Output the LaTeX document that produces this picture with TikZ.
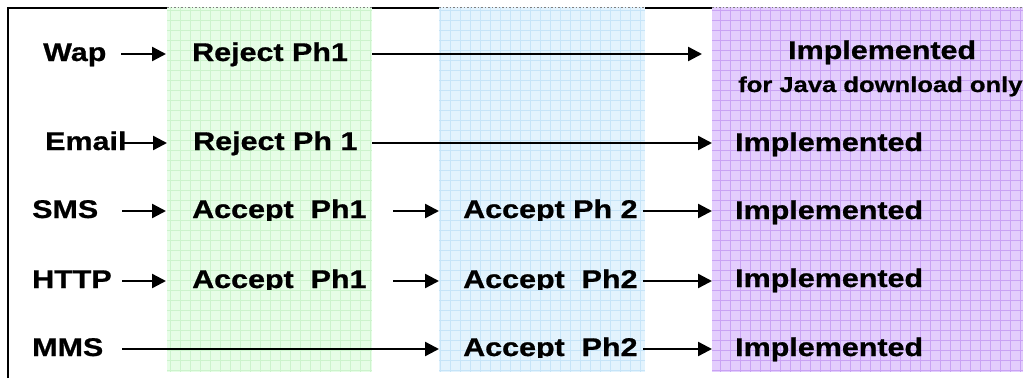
\documentclass[tikz,border=0pt]{standalone}
\usepackage{fontspec}
\setmainfont{Liberation Sans}[FakeStretch=1.19, BoldFeatures={FakeBold=0.8}]
\usetikzlibrary{arrows.meta}
\definecolor{grnfill}{HTML}{E6FDE6}
\definecolor{grngrid}{HTML}{CCF3CC}
\definecolor{blufill}{HTML}{E3F3FD}
\definecolor{blugrid}{HTML}{C6E4F8}
\definecolor{purfill}{HTML}{E3CDFD}
\definecolor{purgrid}{HTML}{C9A2F4}
\begin{document}
\begin{tikzpicture}[x=1pt,y=-1pt,
  lbl/.style={anchor=base west, inner sep=0pt, font=\bfseries\fontsize{25.6}{30}\selectfont, text height=14pt, text depth=0pt},
  smalllbl/.style={anchor=base west, inner sep=0pt, font=\bfseries\fontsize{21.5}{25}\selectfont},
  arr/.style={line width=2.4pt, -{Triangle[length=14pt,width=14pt]}},
  colgrid/.style={line width=0.7pt, step=10pt}
  ]
\useasboundingbox (0,0) rectangle (1023,378);
% frame
\draw[line width=2pt] (8,378) -- (8,8) -- (1023,8);
% columns
\fill[grnfill] (167,7) rectangle (372,372);
\draw[grngrid, colgrid] (167,7) grid (372,372);
\fill[blufill] (439,7) rectangle (645,372);
\draw[blugrid, colgrid] (439,7) grid (645,372);
\fill[purfill] (712,7) rectangle (1023,372);
\draw[purgrid, colgrid] (712,7) grid (1023,372);
\draw[gray, line width=1.5pt, dotted] (167,7.5) -- (372,7.5) (439,7.5) -- (645,7.5) (712,7.5) -- (1023,7.5);
% row labels
\node[lbl] (wap) at (43,61) {Wap};
\node[lbl] (email) at (45,150) {Email};
\node[lbl] (sms) at (32,218) {SMS};
\node[lbl] (http) at (32,288) {HTTP};
\node[lbl] (mms) at (32,356) {MMS};
% phase 1
\node[lbl] (rej1) at (192,61) {Reject Ph1};
\node[lbl] (rej2) at (193,150) {Reject Ph 1};
\begin{scope}
\clip (150,190) rectangle (680,220.5);
\node[lbl] (acc1) at (192,218) {Accept\ \ Ph1};
\node[lbl] (accb1) at (463,218) {Accept Ph 2};
\end{scope}
\begin{scope}
\clip (150,260) rectangle (680,289.5);
\node[lbl] (acc2) at (192,288) {Accept\ \ Ph1};
\node[lbl] (accb2) at (463,288) {Accept\ \ Ph2};
\end{scope}
\begin{scope}
\clip (150,330) rectangle (680,357.5);
\node[lbl] (accb3) at (463,356) {Accept\ \ Ph2};
\end{scope}
% implemented
\node[lbl] (impl1) at (788,59) {Implemented};
\node[smalllbl] (java) at (738,92) {for Java download only};
\node[lbl] (impl2) at (735,151) {Implemented};
\node[lbl] (impl3) at (735,219) {Implemented};
\node[lbl] (impl4) at (735,287) {Implemented};
\node[lbl] (impl5) at (735,356) {Implemented};
% connectors
\draw[arr, shorten <=14.6pt, shorten >=26pt] (wap.east) -- (wap.east -| rej1.west);
\draw[arr, shorten <=-4.4pt, shorten >=26pt] (email.east) -- (email.east -| rej2.west);
\draw[arr, shorten <=24pt, shorten >=26pt] (sms.east) -- (sms.east -| acc1.west);
\draw[arr, shorten <=10.4pt, shorten >=26pt] (http.east) -- (http.east -| acc2.west);
\draw[arr, shorten <=19pt, shorten >=24pt] (mms.east) -- (mms.east -| accb3.west);
\draw[arr, shorten <=24pt, shorten >=86pt] (rej1.east) -- (rej1.east -| impl1.west);
\draw[arr, shorten <=14.6pt, shorten >=23pt] (rej2.east) -- (rej2.east -| impl2.west);
\draw[arr, shorten <=26.4pt, shorten >=24pt] (acc1.east) -- (acc1.east -| accb1.west);
\draw[arr, shorten <=26.4pt, shorten >=24pt] (acc2.east) -- (acc2.east -| accb2.west);
\draw[arr, shorten <=5.4pt, shorten >=23pt] (accb1.east) -- (accb1.east -| impl3.west);
\draw[arr, shorten <=5.4pt, shorten >=23pt] (accb2.east) -- (accb2.east -| impl4.west);
\draw[arr, shorten <=5.4pt, shorten >=23pt] (accb3.east) -- (accb3.east -| impl5.west);
\end{tikzpicture}
\end{document}
